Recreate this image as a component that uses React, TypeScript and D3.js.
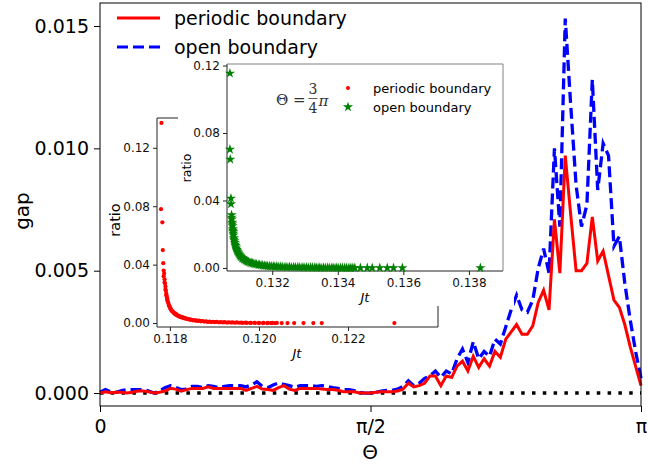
import React, { useEffect, useRef } from 'react'
import * as d3 from 'd3'

// main panel: gap vs Theta (101 points from 0 to pi)
const periodicGap = [
  0, 0.00005, 0.00001, 0.00003, 0.00003, 0, 0.00003, 0.00008, 0.00008, 0.00005,
  0, 0.00003, 0.00008, 0.00019, 0.00016, 0.00008, 0.00014, 0.00019, 0.00019, 0.00019,
  0.00025, 0.00019, 0.00019, 0.00019, 0.00019, 0.00019, 0.00019, 0.00011, 0.00019, 0.00027,
  0.00016, 0.00014, 0.00011, 0.00022, 0.0003, 0.00016, 0.00011, 0.00019, 0.00019, 0.00019,
  0.00019, 0.00016, 0.00014, 0.00014, 0.00011, 0.00005, 0.00005, 0.00005, 0, 0,
  0, 0.00003, 0.00005, 0.00005, 0.00005, 0.00008, 0.00016, 0.0004, 0.00025, 0.0003,
  0.0004, 0.0007, 0.0007, 0.0003, 0.0007, 0.00064, 0.0011, 0.0013, 0.0009, 0.0015,
  0.00105, 0.0014, 0.0011, 0.0017, 0.00146, 0.0022, 0.0025, 0.0028, 0.0024, 0.0024,
  0.00275, 0.0037, 0.0042, 0.0034, 0.0071, 0.0049, 0.0097, 0.0073, 0.005, 0.005,
  0.0053, 0.0072, 0.0054, 0.0058, 0.0048, 0.0038, 0.0035, 0.0028, 0.0019, 0.0011,
  0.0003
]
const openGap = [
  0.00003, 0.00014, 0.00005, 0.00003, 0.0001, 0.00014, 0.00014, 0.00014, 0.00014, 0.00008,
  0, 0.00008, 0.00022, 0.0003, 0.00023, 0.00014, 0.00016, 0.00027, 0.00027, 0.00022,
  0.0003, 0.00027, 0.00022, 0.00027, 0.0003, 0.0003, 0.0003, 0.00025, 0.00033, 0.00046,
  0.00027, 0.00022, 0.00033, 0.00041, 0.00035, 0.0003, 0.00023, 0.0003, 0.0003, 0.0003,
  0.00027, 0.0003, 0.00027, 0.00022, 0.00019, 0.00014, 0.00014, 0.0001, 0.00003, 0,
  0, 0.00003, 0.00008, 0.00011, 0.00011, 0.00016, 0.00027, 0.0005, 0.0003, 0.0004,
  0.0006, 0.0007, 0.0009, 0.00064, 0.0009, 0.00078, 0.0014, 0.0018, 0.00125, 0.0021,
  0.0014, 0.0017, 0.0015, 0.0022, 0.002, 0.0027, 0.0034, 0.004, 0.0034, 0.0033,
  0.0038, 0.0051, 0.0059, 0.0049, 0.01, 0.0068, 0.0153, 0.0118, 0.0085, 0.0068,
  0.0077, 0.0128, 0.0083, 0.0102, 0.0097, 0.006, 0.0064, 0.0045, 0.003, 0.0017,
  0.0006
]
const thetaTicks = [0, Math.PI / 2, Math.PI]
const thetaTickLabels = ['0', 'π/2', 'π']
const gapTicks = [0, 0.005, 0.01, 0.015]

// inset 1: periodic boundary ratio vs Jt
const periodicJt = [
  0.11781, 0.1178, 0.11783, 0.11784, 0.11785, 0.11786, 0.11787, 0.11788, 0.11789, 0.1179,
  0.11791, 0.11792, 0.11793, 0.11794, 0.11795, 0.11797, 0.11799, 0.11801, 0.11803, 0.11805,
  0.11808, 0.11811, 0.11814, 0.11818, 0.11822, 0.11826, 0.1183, 0.11835, 0.1184, 0.11845,
  0.11851, 0.11857, 0.11863, 0.1187, 0.11877, 0.11885, 0.11893, 0.11901, 0.1191, 0.11919,
  0.11928, 0.11937, 0.11946, 0.11955, 0.11964, 0.11973, 0.11982, 0.11991, 0.12, 0.12009,
  0.12018, 0.12027, 0.12036, 0.12051, 0.12064, 0.12079, 0.121, 0.12122, 0.12141, 0.12304,
  0.11786, 0.11788, 0.1179, 0.11792, 0.11794, 0.11796, 0.11798, 0.118, 0.11802, 0.11806,
  0.11809, 0.11813, 0.11816, 0.1182, 0.11824, 0.11828, 0.11833, 0.11838, 0.11843, 0.11848,
  0.11854, 0.1186, 0.11866, 0.11873, 0.11881, 0.11889, 0.11897, 0.11905, 0.11914, 0.11923,
  0.11932, 0.11941, 0.1195, 0.1196, 0.1197, 0.1198, 0.1199, 0.12, 0.1201, 0.1202,
  0.1203, 0.1204
]
const periodicRatio = [
  0.137, 0.078, 0.069, 0.05, 0.041, 0.036, 0.034, 0.03, 0.027, 0.025,
  0.022, 0.02, 0.018, 0.016, 0.015, 0.013, 0.0115, 0.01, 0.0088, 0.0079,
  0.007, 0.0062, 0.0055, 0.0048, 0.0043, 0.0038, 0.0034, 0.003, 0.0026, 0.0022,
  0.0019, 0.0016, 0.0014, 0.0012, 0.001, 0.0008, 0.0007, 0.0006, 0.0005, 0.0004,
  0.0003, 0.0003, 0.0002, 0.0002, 0.0001, 0.0001, 0.0001, 0.0001, 0, 0,
  0, 0, 0, 0, 0, 0, 0, 0, 0, 0,
  0.032, 0.028, 0.023, 0.019, 0.017, 0.014, 0.012, 0.0108, 0.0095, 0.0082,
  0.0072, 0.0064, 0.0056, 0.005, 0.0045, 0.004, 0.0036, 0.0031, 0.0027, 0.0024,
  0.0021, 0.0018, 0.0016, 0.0014, 0.0012, 0.001, 0.0009, 0.0008, 0.0007, 0.0006,
  0.0005, 0.0004, 0.0004, 0.0003, 0.0003, 0.0002, 0.0002, 0.0001, 0.0001, 0.0001,
  0.0001, 0.0001
]
const periodicJtTicks = [0.118, 0.12, 0.122]

// inset 2: open boundary ratio vs Jt
const openJt = [
  0.13071, 0.13071, 0.13072, 0.13074, 0.13074, 0.13076, 0.13077, 0.13078, 0.13079, 0.1308,
  0.13081, 0.13082, 0.13083, 0.13085, 0.13087, 0.13089, 0.13092, 0.13095, 0.13099, 0.13103,
  0.13108, 0.13113, 0.13119, 0.13125, 0.13132, 0.1314, 0.13148, 0.13157, 0.13166, 0.13176,
  0.13186, 0.13197, 0.13208, 0.1322, 0.13232, 0.13245, 0.13258, 0.13271, 0.13284, 0.13297,
  0.1331, 0.13323, 0.13336, 0.13349, 0.13362, 0.13375, 0.13388, 0.13401, 0.13414, 0.13427,
  0.1344, 0.13452, 0.13469, 0.1349, 0.13505, 0.13528, 0.13551, 0.1357, 0.13597, 0.13835,
  0.13076, 0.13078, 0.1308, 0.13081, 0.13083, 0.13086, 0.13088, 0.1309, 0.13093, 0.13097,
  0.13101, 0.13105, 0.1311, 0.13116, 0.13122, 0.13128, 0.13136, 0.13144, 0.13152, 0.13161,
  0.13171, 0.13181, 0.13192, 0.13203, 0.13214, 0.13226, 0.13239, 0.13252, 0.13265, 0.13278,
  0.13291, 0.13304, 0.13317, 0.1333, 0.13343, 0.13356, 0.13369, 0.13382, 0.13395, 0.13408,
  0.13421, 0.13434, 0.13446
]
const openRatio = [
  0.1154, 0.0703, 0.0644, 0.0413, 0.0379, 0.0314, 0.029, 0.027, 0.025, 0.0232,
  0.0215, 0.0195, 0.0178, 0.016, 0.014, 0.0124, 0.0108, 0.0095, 0.0082, 0.007,
  0.006, 0.0052, 0.0044, 0.0038, 0.0032, 0.0027, 0.0023, 0.0019, 0.0016, 0.0013,
  0.0011, 0.0009, 0.0008, 0.0007, 0.0006, 0.0005, 0.0004, 0.0004, 0.0003, 0.0003,
  0.0002, 0.0002, 0.0002, 0.0001, 0.0001, 0.0001, 0.0001, 0.0001, 0, 0,
  0, 0, 0, 0, 0, 0, 0, 0, 0, 0,
  0.03, 0.026, 0.0222, 0.0205, 0.017, 0.015, 0.0132, 0.0116, 0.0101, 0.0088,
  0.0076, 0.0066, 0.0057, 0.0049, 0.0042, 0.0036, 0.003, 0.0026, 0.0022, 0.0018,
  0.0015, 0.0013, 0.0011, 0.001, 0.0009, 0.0008, 0.0007, 0.0006, 0.0005, 0.0005,
  0.0004, 0.0004, 0.0003, 0.0003, 0.0003, 0.0002, 0.0002, 0.0002, 0.0002, 0.0001,
  0.0001, 0.0001, 0.0001
]
const openJtTicks = [0.132, 0.134, 0.136, 0.138]
const ratioTicks = [0, 0.04, 0.08, 0.12]

const FONT = 'DejaVu Sans, sans-serif'

const App = () => {
  const ref = useRef<SVGSVGElement>(null)

  useEffect(() => {
    const svg = d3.select(ref.current)
    svg.selectAll('*').remove()
    svg.append('rect').attr('width', 648).attr('height', 466).attr('fill', '#fff')

    // ---------- main axes ----------
    const x = d3.scaleLinear().domain([0, Math.PI]).range([100, 641])
    const y = d3.scaleLinear().domain([-0.00053, 0.01594]).range([406, 3])
    const theta = periodicGap.map((_, i) => (i * Math.PI) / (periodicGap.length - 1))

    const xAxis = svg.append('g').attr('transform', 'translate(0,406)')
      .call(d3.axisBottom(x).tickValues(thetaTicks).tickFormat((_, i) => thetaTickLabels[i]).tickSize(6).tickPadding(8))
    const yAxis = svg.append('g').attr('transform', 'translate(100,0)')
      .call(d3.axisLeft(y).tickValues(gapTicks).tickFormat(d3.format('.3f')).tickSize(6).tickPadding(5))
    for (const ax of [xAxis, yAxis]) {
      ax.select('.domain').remove()
      ax.selectAll('line').attr('stroke', '#000')
      ax.selectAll('text').attr('font-size', 19).attr('font-family', FONT).attr('fill', '#000')
    }

    // zero reference line
    svg.append('line')
      .attr('x1', x(0)).attr('x2', x(Math.PI)).attr('y1', y(0)).attr('y2', y(0))
      .attr('stroke', '#000').attr('stroke-width', 3.5).attr('stroke-dasharray', '3.5,7.3')

    const line = d3.line<number>().x((_, i) => x(theta[i])).y(d => y(d))
    svg.append('path').attr('d', line(openGap)).attr('fill', 'none')
      .attr('stroke', '#0000ff').attr('stroke-width', 3.3).attr('stroke-dasharray', '11,5')
    svg.append('path').attr('d', line(periodicGap)).attr('fill', 'none')
      .attr('stroke', '#ff0000').attr('stroke-width', 3)

    svg.append('rect').attr('x', 100).attr('y', 3).attr('width', 541).attr('height', 403)
      .attr('fill', 'none').attr('stroke', '#000').attr('stroke-width', 1)

    svg.append('text').text('Θ').attr('x', 370).attr('y', 452)
      .attr('font-size', 20).attr('font-family', FONT).attr('text-anchor', 'middle').attr('dominant-baseline', 'central')
    svg.append('text').text('gap').attr('transform', 'translate(22,211) rotate(-90)')
      .attr('font-size', 20).attr('font-family', FONT).attr('text-anchor', 'middle').attr('dominant-baseline', 'central')

    // ---------- inset helper ----------
    const inset = (box, xDom, yDom, xTicks, labelPos, spineTop, labelSize) => {
      const [l, t, r, b] = box
      const ix = d3.scaleLinear().domain(xDom).range([l, r])
      const iy = d3.scaleLinear().domain(yDom).range([b, t])
      const g = svg.append('g')
      const ax1 = g.append('g').attr('transform', `translate(0,${b})`)
        .call(d3.axisBottom(ix).tickValues(xTicks).tickFormat(d3.format('.3f')).tickSize(4).tickPadding(3))
      const ax2 = g.append('g').attr('transform', `translate(${l},0)`)
        .call(d3.axisLeft(iy).tickValues(ratioTicks).tickFormat(d3.format('.2f')).tickSize(4).tickPadding(3))
      for (const ax of [ax1, ax2]) {
        ax.select('.domain').remove()
        ax.selectAll('line').attr('stroke', '#222')
        ax.selectAll('text').attr('font-size', 12).attr('font-family', FONT).attr('fill', '#111')
      }
      g.append('path').attr('d', `M${l},${t}V${b}H${r}`).attr('fill', 'none').attr('stroke', '#222')
      g.append('path').attr('d', `M${l},${t}H${r}V${b}`).attr('fill', 'none').attr('stroke', spineTop)
      g.append('text').text('ratio').attr('transform', `translate(${labelPos[0]},${labelPos[1]}) rotate(-90)`)
        .attr('font-size', labelSize).attr('font-family', FONT).attr('text-anchor', 'middle').attr('dominant-baseline', 'central')
      g.append('text').text('Jt').attr('x', labelPos[2]).attr('y', labelPos[3])
        .attr('font-size', 13).attr('font-family', FONT).attr('font-style', 'italic')
        .attr('text-anchor', 'middle').attr('dominant-baseline', 'central')
      return { g, ix, iy }
    }

    // inset 1 (periodic)
    svg.append('rect').attr('x', 104).attr('y', 112).attr('width', 340).attr('height', 250).attr('fill', '#fff')
    const p = inset([157, 118, 438, 327], [0.11771, 0.12402], [-0.0027, 0.1404], periodicJtTicks, [115, 220, 297, 353], '#222', 14.5)
    p.g.selectAll('circle.pt').data(periodicJt).join('circle').attr('class', 'pt')
      .attr('cx', d => p.ix(d)).attr('cy', (_, i) => p.iy(periodicRatio[i]))
      .attr('r', 2.1).attr('fill', '#ff0000')

    // inset 2 (open), drawn on top
    svg.append('rect').attr('x', 178).attr('y', 57).attr('width', 336).attr('height', 249).attr('fill', '#fff')
    const o = inset([227, 64, 503, 271], [0.13062, 0.13904], [-0.0018, 0.1209], openJtTicks, [186, 168, 365, 297], '#808080', 12.5)
    const star = d3.symbol().type(d3.symbolStar).size(32)
    o.g.selectAll('path.pt').data(openJt).join('path').attr('class', 'pt')
      .attr('d', star).attr('transform', (d, i) => `translate(${o.ix(d)},${o.iy(openRatio[i])})`)
      .attr('fill', '#008000')

    // inset legend
    o.g.append('circle').attr('cx', 348).attr('cy', 88).attr('r', 2).attr('fill', '#ff0000')
    o.g.append('path').attr('d', star).attr('transform', 'translate(348,107)').attr('fill', '#008000')
    o.g.append('text').text('periodic boundary').attr('x', 373).attr('y', 88)
      .attr('font-size', 13).attr('font-family', FONT).attr('dominant-baseline', 'central')
    o.g.append('text').text('open boundary').attr('x', 373).attr('y', 107)
      .attr('font-size', 13).attr('font-family', FONT).attr('dominant-baseline', 'central')

    // Theta = 3/4 pi
    const serif = 'DejaVu Serif, serif'
    o.g.append('text').text('Θ =').attr('x', 276).attr('y', 100)
      .attr('font-size', 15).attr('font-family', serif).attr('fill', '#333').attr('dominant-baseline', 'central')
    o.g.append('text').text('3').attr('x', 313).attr('y', 89).attr('text-anchor', 'middle')
      .attr('font-size', 14).attr('font-family', serif).attr('fill', '#333').attr('dominant-baseline', 'central')
    o.g.append('text').text('4').attr('x', 313).attr('y', 108).attr('text-anchor', 'middle')
      .attr('font-size', 14).attr('font-family', serif).attr('fill', '#333').attr('dominant-baseline', 'central')
    o.g.append('line').attr('x1', 308.5).attr('x2', 317.5).attr('y1', 98.5).attr('y2', 98.5).attr('stroke', '#333').attr('stroke-width', 0.8)
    o.g.append('text').text('π').attr('x', 318.5).attr('y', 101)
      .attr('font-size', 15).attr('font-family', serif).attr('font-style', 'italic').attr('fill', '#333').attr('dominant-baseline', 'central')

    // main legend (on top)
    const legend = [['periodic boundary', '#ff0000', null], ['open boundary', '#0000ff', '11,5']]
    legend.forEach(([label, color, dash], i) => {
      const ly = 18 + i * 29
      svg.append('line').attr('x1', 117).attr('x2', 160).attr('y1', ly).attr('y2', ly)
        .attr('stroke', color).attr('stroke-width', 3).attr('stroke-dasharray', dash)
      svg.append('text').text(label).attr('x', 174).attr('y', ly)
        .attr('font-size', 19).attr('font-family', FONT).attr('dominant-baseline', 'central')
    })

    return () => { svg.selectAll('*').remove() }
  }, [])

  return (
    <svg ref={ref} width={648} height={466} style={{ position: 'absolute', left: 0, top: 0 }} />
  )
}

export default App
